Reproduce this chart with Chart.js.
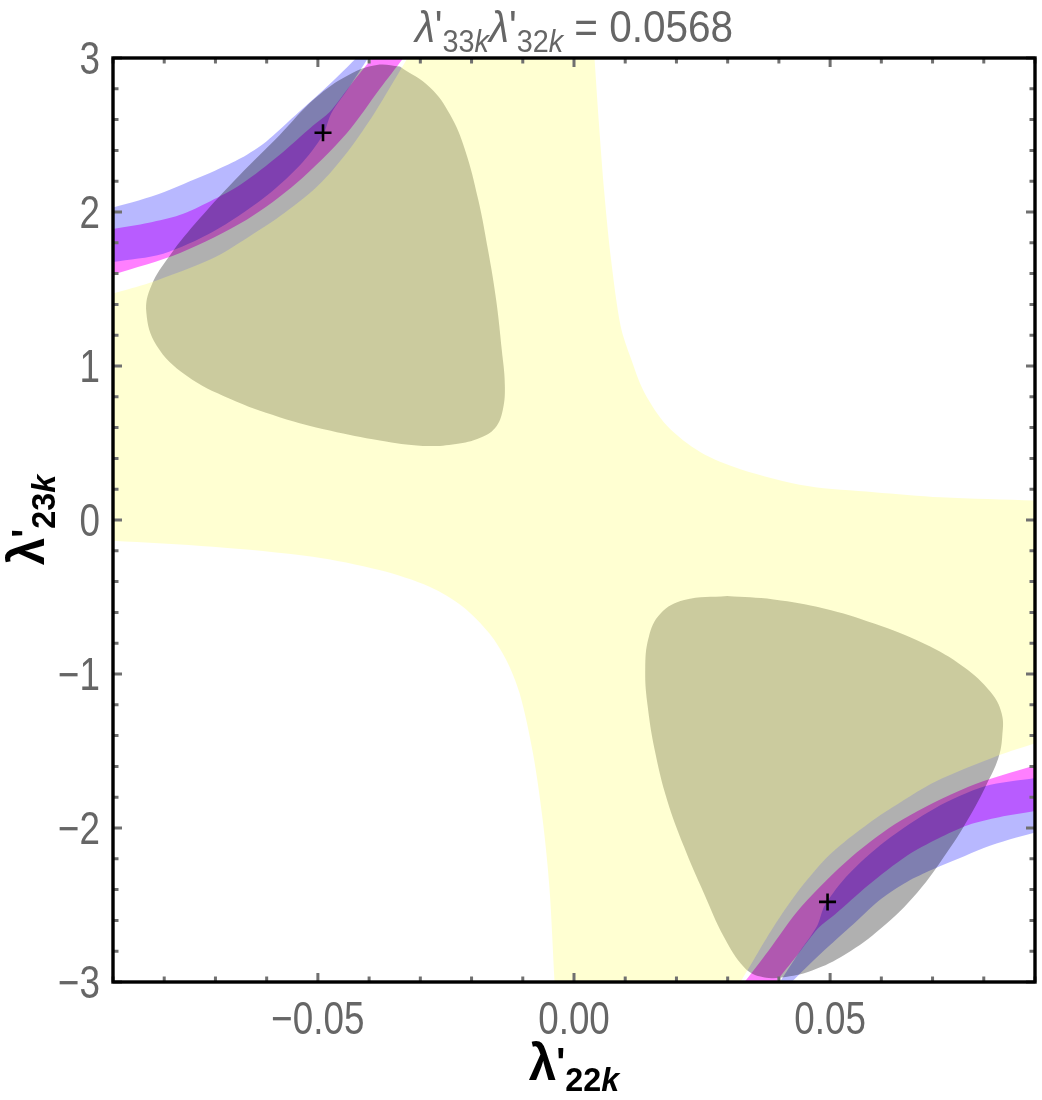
<!DOCTYPE html>
<html><head><meta charset="utf-8">
<script src="https://cdn.jsdelivr.net/npm/chart.js@4.4.1/dist/chart.umd.min.js"></script>
<style>html,body{margin:0;padding:0;background:#fff;overflow:hidden;}#wrap{width:1042px;height:1100px;}canvas{display:block;}</style>
</head><body><div id="wrap"><canvas id="c" width="1042" height="1100"></canvas></div>
<script>
// ---------- axes ----------
const xRange = [-0.09, 0.09];
const yRange = [-3, 3];
const xMajorTicks = [-0.05, 0, 0.05];
const xTickLabels = ['\u22120.05', '0.00', '0.05'];
const yMajorTicks = [-3, -2, -1, 0, 1, 2, 3];
const yTickLabels = ['\u22123', '\u22122', '\u22121', '0', '1', '2', '3'];
const xMinorStep = 0.01;
const yMinorStep = 0.2;
const titleText = ' = 0.0568';

// ---------- yellow region boundaries (x, y) ----------
const yellowQ1 = [[0.0040,3.0],[0.0049,2.56],[0.0059,2.13],[0.0072,1.70],[0.0091,1.26],[0.0111,1.05],[0.0137,0.83],[0.0182,0.61],[0.0247,0.44],[0.0325,0.33],[0.0456,0.22],[0.0586,0.18],[0.0716,0.147],[0.0900,0.126]];
const yellowQ4 = [[0.090,-1.45],[0.0828,-1.53],[0.0705,-1.70],[0.0639,-1.83],[0.0575,-1.97],[0.050,-2.17],[0.044,-2.40],[0.039,-2.64],[0.035,-2.86],[0.0325,-3.0]];
const yellowQ3 = [[-0.0038,-3.0],[-0.0048,-2.384],[-0.0061,-1.951],[-0.0080,-1.517],[-0.0106,-1.127],[-0.0132,-0.910],[-0.0165,-0.737],[-0.0217,-0.563],[-0.0282,-0.433],[-0.0380,-0.325],[-0.0510,-0.238],[-0.0705,-0.173],[-0.0900,-0.134]];
const yellowQ2 = [[-0.090,1.47],[-0.0828,1.54],[-0.0705,1.70],[-0.0639,1.83],[-0.0575,1.97],[-0.050,2.17],[-0.044,2.40],[-0.039,2.64],[-0.035,2.86],[-0.0325,3.0]];

// ---------- grey blobs ----------
const greyUpper = [[-0.0340,2.945],[-0.0281,2.809],[-0.0242,2.633],[-0.0213,2.406],[-0.0187,2.081],[-0.0168,1.756],[-0.0152,1.430],[-0.0141,1.105],[-0.0135,0.878],[-0.0139,0.715],[-0.0154,0.598],[-0.0184,0.533],[-0.0230,0.494],[-0.0295,0.481],[-0.0379,0.516],[-0.0477,0.581],[-0.0575,0.668],[-0.0672,0.787],[-0.0757,0.938],[-0.0815,1.133],[-0.0835,1.350],[-0.0825,1.523],[-0.0789,1.718],[-0.0731,1.957],[-0.0653,2.239],[-0.0575,2.499],[-0.0505,2.74],[-0.0440,2.89],[-0.0385,2.955],[-0.0340,2.945]];
const greyLower = [[0.0299,-0.494],[0.0390,-0.516],[0.0488,-0.574],[0.0586,-0.672],[0.0683,-0.802],[0.0761,-0.954],[0.0813,-1.116],[0.0835,-1.257],[0.0836,-1.409],[0.0828,-1.55],[0.0805,-1.72],[0.0775,-1.91],[0.0730,-2.15],[0.0670,-2.42],[0.0600,-2.65],[0.0530,-2.82],[0.0465,-2.925],[0.0405,-2.970],[0.0364,-2.965],[0.0332,-2.904],[0.0293,-2.709],[0.0254,-2.427],[0.0215,-2.124],[0.0182,-1.821],[0.0159,-1.517],[0.0144,-1.214],[0.0139,-0.975],[0.0146,-0.759],[0.0169,-0.607],[0.0215,-0.520],[0.0299,-0.494]];

// ---------- blue bands ----------
const blueUpperA = [[-0.090,2.03],[-0.085,2.075],[-0.080,2.13],[-0.075,2.20],[-0.070,2.27],[-0.065,2.35],[-0.060,2.46],[-0.055,2.61],[-0.050,2.76],[-0.046,2.885],[-0.0425,3.0]];
const blueUpperB = [[-0.0402,3.0],[-0.0437,2.82],[-0.0474,2.64],[-0.049,2.50],[-0.0536,2.30],[-0.0607,2.087],[-0.0705,1.871],[-0.0802,1.729],[-0.090,1.675]];
const blueLowerA = [[0.090,-2.03],[0.085,-2.075],[0.080,-2.13],[0.075,-2.20],[0.070,-2.27],[0.065,-2.35],[0.060,-2.46],[0.055,-2.61],[0.050,-2.76],[0.046,-2.885],[0.0425,-3.0]];
const blueLowerB = [[0.0402,-3.0],[0.0437,-2.82],[0.0474,-2.64],[0.049,-2.50],[0.0536,-2.30],[0.0607,-2.087],[0.0705,-1.871],[0.0802,-1.729],[0.090,-1.675]];

// ---------- magenta bands ----------
const magUpperA = [[-0.090,1.89],[-0.083,1.93],[-0.077,1.98],[-0.071,2.07],[-0.065,2.18],[-0.0575,2.37],[-0.051,2.56],[-0.0477,2.65],[-0.0435,2.83],[-0.0394,3.0]];
const magUpperB = [[-0.0333,3.0],[-0.0379,2.80],[-0.0444,2.51],[-0.0541,2.19],[-0.0639,1.95],[-0.0769,1.734],[-0.090,1.593]];
const magLowerA = [[0.090,-1.89],[0.083,-1.93],[0.077,-1.98],[0.071,-2.07],[0.065,-2.18],[0.0575,-2.37],[0.051,-2.56],[0.0477,-2.65],[0.0435,-2.83],[0.0394,-3.0]];
const magLowerB = [[0.0333,-3.0],[0.0379,-2.80],[0.0444,-2.51],[0.0541,-2.19],[0.0639,-1.95],[0.0769,-1.734],[0.090,-1.593]];

// ---------- best-fit markers ----------
const markers = [[-0.049, 2.515], [0.0495, -2.48]];

// helpers
const pts = a => a.map(p => ({x: p[0], y: p[1]}));
function polygon(...edges) {
  const out = [];
  edges.forEach(e => { out.push(e[0]); e.forEach(p => out.push(p)); out.push(e[e.length - 1]); });
  out.push(edges[0][0]);
  return pts(out);
}
function region(data, color, order, tension) {
  return {data, showLine: true, fill: 'shape', backgroundColor: color, borderColor: 'rgba(0,0,0,0)',
          borderWidth: 0, pointRadius: 0, pointHoverRadius: 0, pointHitRadius: 0, tension: tension, order: order};
}

const MAG = 'rgba(255,0,255,0.5)';
const BLUE = 'rgba(0,0,255,0.28)';
const GREY = 'rgba(0,0,0,0.31)';
const YEL = 'rgba(255,255,123,0.34)';

const datasets = [
  region(polygon(magUpperA, magUpperB), MAG, 6, 0.3),
  region(polygon(magLowerA, magLowerB), MAG, 6, 0.3),
  region(polygon(blueUpperA, blueUpperB), BLUE, 5, 0.3),
  region(polygon(blueLowerA, blueLowerB), BLUE, 5, 0.3),
  region(pts(greyUpper), GREY, 4, 0.4),
  region(pts(greyLower), GREY, 4, 0.4),
  region(polygon(yellowQ1, yellowQ4, yellowQ3, yellowQ2), YEL, 3, 0.3),
  {data: pts(markers), showLine: false, pointStyle: 'cross', pointRadius: 8.5, pointBorderWidth: 2.6,
   pointBorderColor: '#000', pointBackgroundColor: '#000', order: 0}
];

function drawRuns(ctx, runs, cx, baseY, sx) {
  sx = sx || 1;
  let total = 0;
  runs.forEach(r => { ctx.font = r.font; r.w = (ctx.measureText(r.t).width + (r.gap || 0)) * sx; total += r.w; });
  let x = cx - total / 2;
  runs.forEach(r => {
    ctx.font = r.font;
    ctx.save(); ctx.translate(x, baseY + (r.dy || 0)); ctx.scale(sx, 1); ctx.fillText(r.t, 0, 0); ctx.restore();
    x += r.w;
  });
}
function narrowText(ctx, t, x, y, sx) {
  ctx.save(); ctx.translate(x, y); ctx.scale(sx, 1); ctx.fillText(t, 0, 0); ctx.restore();
}

const deco = {
  id: 'deco',
  afterDraw(chart) {
    const {ctx, chartArea: a, scales: {x, y}} = chart;
    ctx.save();
    // ticks (inward, all four sides)
    ctx.strokeStyle = '#707070';
    ctx.lineWidth = 3;
    const nx = Math.round((xRange[1] - xRange[0]) / xMinorStep);
    for (let i = 0; i <= nx; i++) {
      const v = xRange[0] + i * xMinorStep;
      const major = xMajorTicks.some(t => Math.abs(t - v) < 1e-9);
      const L = major ? 9 : 5.5;
      const px = x.getPixelForValue(v);
      ctx.beginPath();
      ctx.moveTo(px, a.bottom); ctx.lineTo(px, a.bottom - L);
      ctx.moveTo(px, a.top); ctx.lineTo(px, a.top + L);
      ctx.stroke();
    }
    const ny = Math.round((yRange[1] - yRange[0]) / yMinorStep);
    for (let i = 0; i <= ny; i++) {
      const v = yRange[0] + i * yMinorStep;
      const major = yMajorTicks.some(t => Math.abs(t - v) < 1e-9);
      const L = major ? 9 : 5.5;
      const py = y.getPixelForValue(v);
      ctx.beginPath();
      ctx.moveTo(a.left, py); ctx.lineTo(a.left + L, py);
      ctx.moveTo(a.right, py); ctx.lineTo(a.right - L, py);
      ctx.stroke();
    }
    // frame
    ctx.strokeStyle = '#000';
    ctx.lineWidth = 3.4;
    ctx.strokeRect(a.left, a.top, a.right - a.left, a.bottom - a.top);
    // tick labels
    const F = '"Liberation Sans", Arial, sans-serif';
    ctx.fillStyle = '#666';
    ctx.font = '46px ' + F;
    ctx.textBaseline = 'alphabetic';
    ctx.textAlign = 'center';
    xMajorTicks.forEach((v, i) => narrowText(ctx, xTickLabels[i], x.getPixelForValue(v), a.bottom + 52, 0.8));
    ctx.textAlign = 'right';
    yMajorTicks.forEach((v, i) => narrowText(ctx, yTickLabels[i], a.left - 13, y.getPixelForValue(v) + 16, 0.8));
    // title
    ctx.textAlign = 'left';
    drawRuns(ctx, [
      {t: '\u03bb', font: 'italic 45px ' + F},
      {t: '\'', font: '45px ' + F},
      {t: '33', font: '32px ' + F, dy: 10},
      {t: 'k', font: 'italic 32px ' + F, dy: 10},
      {t: '\u03bb', font: 'italic 45px ' + F},
      {t: '\'', font: '45px ' + F},
      {t: '32', font: '32px ' + F, dy: 10},
      {t: 'k', font: 'italic 32px ' + F, dy: 10},
      {t: titleText, font: '45px ' + F}
    ], (a.left + a.right) / 2, 42, 0.9);
    // axis titles
    ctx.fillStyle = '#000';
    const axisRuns = sub => [
      {t: '\u03bb', font: 'bold 52px ' + F},
      {t: '\'', font: 'bold 40px ' + F, dy: -4},
      {t: sub, font: 'bold 34px ' + F, dy: 11},
      {t: 'k', font: 'bold italic 34px ' + F, dy: 11}
    ];
    drawRuns(ctx, axisRuns('22'), (a.left + a.right) / 2, 1080, 0.95);
    ctx.save();
    ctx.translate(44, (a.top + a.bottom) / 2);
    ctx.rotate(-Math.PI / 2);
    drawRuns(ctx, axisRuns('23'), 0, 0, 0.95);
    ctx.restore();
    ctx.restore();
  }
};

new Chart(document.getElementById('c'), {
  type: 'scatter',
  data: {datasets},
  options: {
    responsive: false,
    devicePixelRatio: 1,
    animation: false,
    events: [],
    layout: {autoPadding: false, padding: {left: 113, right: 7, top: 58, bottom: 118}},
    plugins: {legend: {display: false}, tooltip: {enabled: false}, title: {display: false}},
    scales: {
      x: {type: 'linear', min: xRange[0], max: xRange[1], grid: {display: false, drawTicks: false},
          border: {display: false}, ticks: {display: false}, afterFit: s => { s.height = 0; }},
      y: {type: 'linear', min: yRange[0], max: yRange[1], grid: {display: false, drawTicks: false},
          border: {display: false}, ticks: {display: false}, afterFit: s => { s.width = 0; }}
    }
  },
  plugins: [deco]
});
</script></body></html>
